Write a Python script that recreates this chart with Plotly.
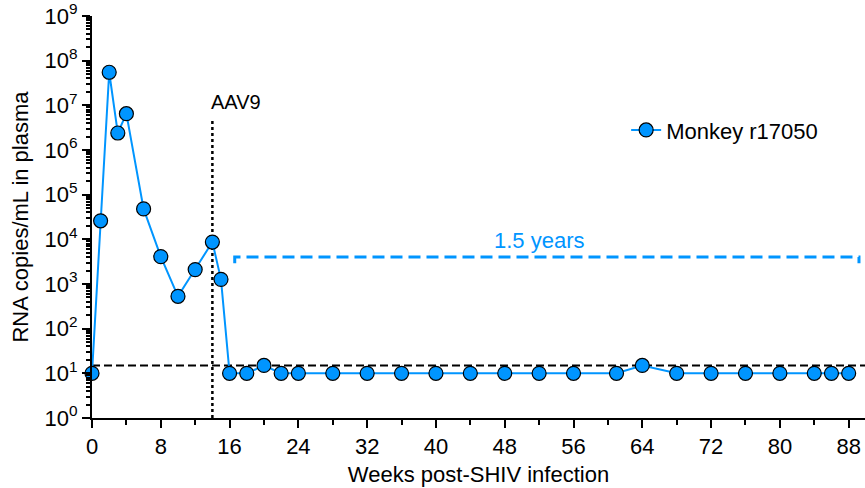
import plotly.graph_objects as go

# ---- data ----
weeks = [0, 1, 2, 3, 4, 6, 8, 10, 12, 14, 15, 16, 18, 20, 22, 24, 28, 32, 36, 40,
         44, 48, 52, 56, 61, 64, 68, 72, 76, 80, 84, 86, 88]
rna = [10, 2.6e4, 5.5e7, 2.4e6, 6.5e6, 4.8e4, 4.1e3, 530, 2.1e3, 8.7e3, 1.27e3,
       10, 10, 15, 10, 10, 10, 10, 10, 10, 10, 10, 10, 10, 10, 15, 10, 10, 10, 10,
       10, 10, 10]
series_name = "Monkey r17050"

lod_value = 15            # limit of detection
aav9_week = 14            # AAV9 administration
aav9_top = 5e6
bracket_weeks = [16.6, 89.2]
bracket_level = 4e3
bracket_tip = 2.9e3

x_ticks = list(range(0, 89, 8))
y_exps = list(range(0, 10))
y_tickvals = [10 ** e for e in y_exps]
y_ticktext = [f"10<sup>{e}</sup>" for e in y_exps]
y_minor = [m * 10 ** e for e in range(0, 9) for m in range(2, 10)]

BLUE = "#0095FF"
FONT = "Liberation Sans, Arial, sans-serif"

fig = go.Figure()

# limit of detection line
fig.add_trace(go.Scatter(
    x=[0, 89.9], y=[lod_value, lod_value], mode="lines",
    line=dict(color="black", width=2, dash="8px,4px"),
    showlegend=False, hoverinfo="skip", cliponaxis=False))

# AAV9 dotted line
fig.add_trace(go.Scatter(
    x=[aav9_week, aav9_week], y=[1, aav9_top], mode="lines",
    line=dict(color="black", width=2.5, dash="dot"),
    showlegend=False, hoverinfo="skip", cliponaxis=False))

# bracket
fig.add_trace(go.Scatter(
    x=[bracket_weeks[0], bracket_weeks[0], bracket_weeks[1], bracket_weeks[1]],
    y=[bracket_tip, bracket_level, bracket_level, bracket_tip], mode="lines",
    line=dict(color=BLUE, width=3, dash="12px,6px"),
    showlegend=False, hoverinfo="skip", cliponaxis=False))

# main series
fig.add_trace(go.Scatter(
    x=weeks, y=rna, mode="lines+markers", name=series_name,
    line=dict(color=BLUE, width=2),
    marker=dict(size=14, color=BLUE, line=dict(color="black", width=1.2)),
    cliponaxis=False))

fig.add_annotation(x=aav9_week, y=7.07, xref="x", yref="y", text="AAV9",
                   showarrow=False, xanchor="left", yanchor="middle", xshift=-3,
                   font=dict(family=FONT, size=20, color="black"))
fig.add_annotation(x=52, y=3.98, xref="x", yref="y", text="1.5 years",
                   showarrow=False, xanchor="center", yanchor="middle",
                   font=dict(family=FONT, size=22, color=BLUE))

fig.update_layout(
    width=865, height=488,
    margin=dict(l=92, r=0, t=16, b=70, autoexpand=False),
    plot_bgcolor="white", paper_bgcolor="white",
    font=dict(family=FONT, size=22, color="black"),
    legend=dict(x=0.691, y=0.716, xanchor="left", yanchor="middle",
                bgcolor="rgba(0,0,0,0)", font=dict(size=22)),
    xaxis=dict(
        range=[0, 89.9], showline=True, linecolor="black", linewidth=2,
        showgrid=False, zeroline=False, automargin=False,
        ticklabeloverflow="allow",
        tickmode="array", tickvals=x_ticks,
        ticks="outside", ticklen=8, tickwidth=2, tickcolor="black",
        tickfont=dict(size=22),
        minor=dict(tickmode="linear", tick0=0, dtick=4, ticks="outside",
                   ticklen=5, tickwidth=2, tickcolor="black", showgrid=False),
        title=dict(text="Weeks post-SHIV infection", font=dict(size=22), standoff=8),
    ),
    yaxis=dict(
        type="log", range=[0, 9], showline=True, linecolor="black", linewidth=2,
        showgrid=False, zeroline=False, automargin=False,
        ticklabeloverflow="allow",
        tickmode="array", tickvals=y_tickvals, ticktext=y_ticktext,
        ticks="outside", ticklen=8, tickwidth=2, tickcolor="black",
        tickfont=dict(size=22),
        minor=dict(tickmode="array", tickvals=y_minor, ticks="outside",
                   ticklen=4, tickwidth=1.5, tickcolor="black", showgrid=False),
        title=dict(text="RNA copies/mL in plasma", font=dict(size=22), standoff=10),
    ),
)

# remove the default 8px page margin so the figure fills the window exactly
fig.write_html("out.html",
               config={"displayModeBar": False},
               post_script="document.body.style.margin='0';document.body.style.overflow='hidden';")
